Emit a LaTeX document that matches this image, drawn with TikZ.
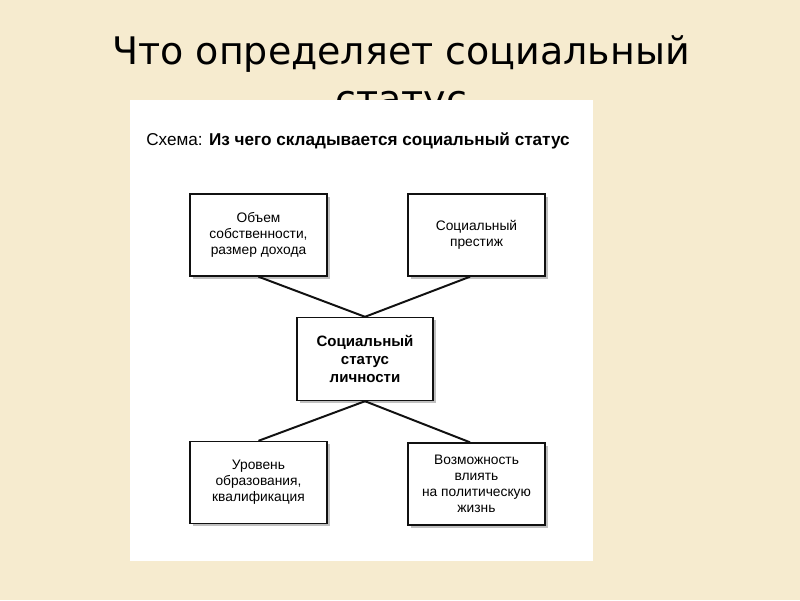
\documentclass[tikz,border=0pt]{standalone}
\usepackage{fontspec}
\setmainfont{DejaVu Sans}
\newfontfamily\arialfont{Liberation Sans}
\usetikzlibrary{shadows}

\definecolor{Parchment}{HTML}{F6EBCF}
\definecolor{Panel}{HTML}{FFFFFF}
\definecolor{Ink}{HTML}{111111}

\begin{document}
\begin{tikzpicture}[x=0.025cm, y=-0.025cm,
  factor/.style={draw=Ink, line width=1pt, fill=white, minimum width=137*0.025cm,
    minimum height=82*0.025cm, align=center, inner sep=0pt,
    drop shadow={shadow xshift=2pt, shadow yshift=-2pt, opacity=0.35, fill=black!70},
    font=\arialfont\fontsize{9.8}{11.3}\selectfont},
  core/.style={factor, font=\arialfont\bfseries\fontsize{10.7}{12.8}\selectfont},
  link/.style={draw=Ink, line width=1.4pt}]

  %%%%%%%%%% Background %%%%%%%%%%
  \fill [Parchment] (0,0) rectangle (800,600);
  \useasboundingbox (0,0) rectangle (800,600);

  %%%%%%%%%% Title %%%%%%%%%%
  \node [anchor=base, font=\fontsize{27}{31.3}\selectfont] (title) at (401,64) {Что определяет социальный};
  \node [anchor=base, font=\fontsize{27}{31.3}\selectfont] (title2) at (401,112) {статус};

  %%%%%%%%%% White panel %%%%%%%%%%
  \fill [Panel] (130,100) rectangle (593,561);

  \node [anchor=base west, inner sep=0pt, font=\arialfont\fontsize{12.2}{14}\selectfont] (head) at (146,145)
    {Схема: \textbf{Из чего складывается социальный статус}};

  %%%%%%%%%%% Boxes %%%%%%%%%%%
  \node [factor] (wealth) at (258.5,235) {Объем\\собственности,\\размер дохода};
  \node [factor] (prestige) at (476.5,235) {Социальный\\престиж};
  \node [core, minimum width=136*0.025cm, minimum height=83*0.025cm] (status) at (365,359) {Социальный\\статус\\личности};
  \node [factor] (education) at (258.5,482.5) {Уровень\\образования,\\квалификация};
  \node [factor] (power) at (476.5,484) {Возможность\\влиять\\на политическую\\жизнь};

  %%%%%%%%%%% Links %%%%%%%%%%%
  \draw [link] (wealth.south) -- (status.north);
  \draw [link] (prestige.south -| 470,0) -- (status.north);
  \draw [link] (status.south) -- (education.north);
  \draw [link] (status.south) -- (power.north -| 470,0);

\end{tikzpicture}
\end{document}
